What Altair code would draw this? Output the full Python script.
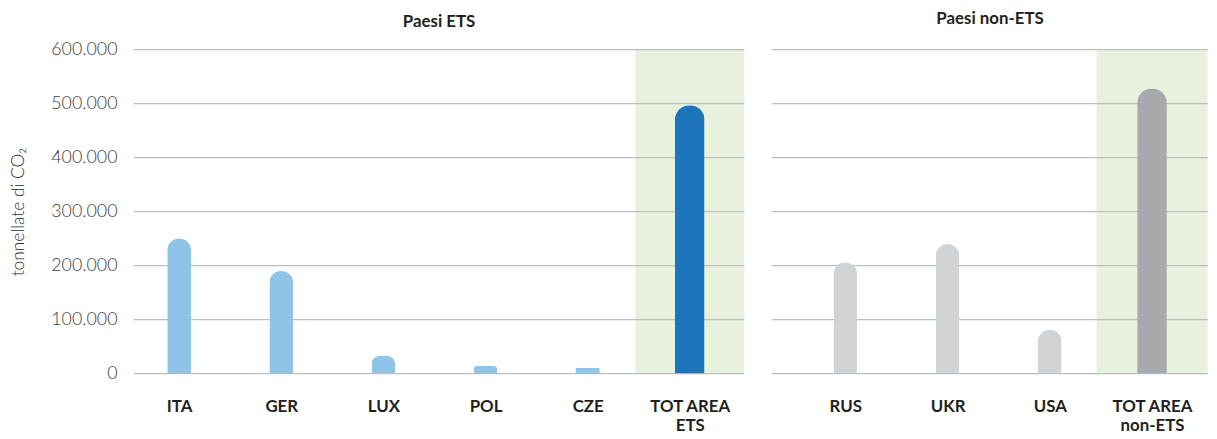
import altair as alt
import pandas as pd

# ---- data ----
ets_cats = ["ITA", "GER", "LUX", "POL", "CZE", "TOT AREA|ETS"]
ets_vals = [250000, 190000, 33000, 14000, 10500, 497000]
non_cats = ["RUS", "UKR", "USA", "TOT AREA|non-ETS"]
non_vals = [206000, 240000, 81000, 528000]
y_ticks = [0, 100000, 200000, 300000, 400000, 500000, 600000]
y_max = 600000

FONT = "Lato"
GRID = "#BCBEC0"
GREEN = "#E8F1DE"


def panel(cats, vals, title, c_light, c_total, xrange, width, band_size, show_y,
          title_offset, flat=()):
    df = pd.DataFrame({"cat": cats, "value": vals})
    regular = df[df["cat"] != cats[-1]]
    rounded = regular[~regular["cat"].isin(flat)]
    flat_df = regular[regular["cat"].isin(flat)]
    total = df[df["cat"] == cats[-1]]
    band = pd.DataFrame({"cat": [cats[-1]], "value": [y_max]})
    grid = pd.DataFrame({"value": y_ticks})

    xs = alt.Scale(type="point", domain=cats, range=xrange, padding=0)
    ys = alt.Scale(domain=[0, y_max], nice=False, zero=True)

    x_axis = alt.Axis(
        title=None, labelAngle=0, ticks=False, tickSize=0, domain=False,
        labelFont=FONT, labelFontWeight="bold", labelFontSize=17,
        labelColor="#231F20", labelPadding=25, labelLineHeight=19,
        labelExpr="split(datum.label, '|')",
    )
    if show_y:
        y_axis = alt.Axis(
            title="tonnellate di CO₂", values=y_ticks, grid=False, ticks=False,
            domain=False, labelFont=FONT, labelFontWeight=300, labelFontSize=18,
            labelColor="#404040", labelPadding=17,
            labelExpr="replace(format(datum.value, ','), ',', '.')",
            minExtent=82, maxExtent=82, titlePadding=25,
            titleFont=FONT, titleFontWeight=300, titleFontSize=17.5, titleColor="#2b2b2b",
        )
    else:
        y_axis = None

    band_layer = alt.Chart(band).mark_bar(size=band_size, color=GREEN).encode(
        x=alt.X("cat:N", scale=xs, axis=x_axis, sort=cats),
        y=alt.Y("value:Q", scale=ys, axis=y_axis),
        y2=alt.datum(0),
    )
    grid_layer = alt.Chart(grid).mark_rule(color=GRID, strokeWidth=1.3).encode(
        y=alt.Y("value:Q", scale=ys, axis=y_axis),
    )
    bars = alt.Chart(rounded).mark_bar(
        size=24, color=c_light, cornerRadiusTopLeft=12, cornerRadiusTopRight=12
    ).encode(
        x=alt.X("cat:N", scale=xs, axis=x_axis, sort=cats),
        y=alt.Y("value:Q", scale=ys, axis=y_axis),
    )
    layers = [band_layer, grid_layer, bars]
    if len(flat_df):
        layers.append(
            alt.Chart(flat_df).mark_bar(size=24, color=c_light).encode(
                x=alt.X("cat:N", scale=xs, axis=x_axis, sort=cats),
                y=alt.Y("value:Q", scale=ys, axis=y_axis),
            )
        )
    layers.append(
        alt.Chart(total).mark_bar(
            size=30, color=c_total, cornerRadiusTopLeft=15, cornerRadiusTopRight=15
        ).encode(
            x=alt.X("cat:N", scale=xs, axis=x_axis, sort=cats),
            y=alt.Y("value:Q", scale=ys, axis=y_axis),
        )
    )
    return alt.layer(*layers).properties(
        width=width, height=327,
        title=alt.TitleParams(
            title, font=FONT, fontSize=17, fontWeight="bold", color="#231F20",
            anchor="middle", frame="group", offset=title_offset,
        ),
    )


left = panel(ets_cats, ets_vals, "Paesi ETS", "#8EC4E8", "#1C75BB",
             [45.7, 561], 616, 110, True, 10, flat=("CZE",))
right = panel(non_cats, non_vals, "Paesi non-ETS", "#D1D3D4", "#A7A9AC",
              [74, 383.5], 440, 112, False, 21)

chart = alt.hconcat(left, right, spacing=26).properties(
    padding={"left": 2, "top": 0, "right": 0, "bottom": 0},
    background="white",
).configure_view(stroke=None)

chart.save("out.html", embed_options={"renderer": "svg", "actions": False})
